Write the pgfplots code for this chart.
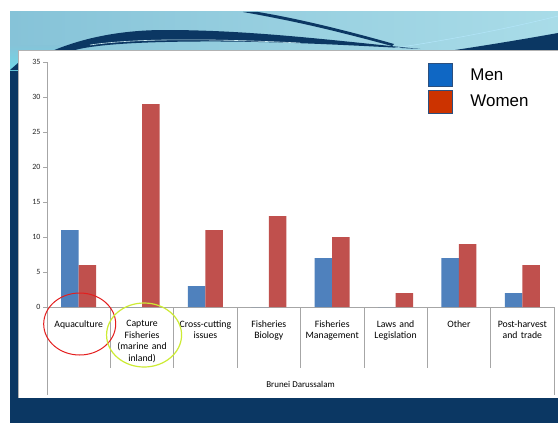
\documentclass[border=0pt]{standalone}
\usepackage{pgfplots}
\pgfplotsset{compat=1.18}
\usepackage{fontspec}
\setmainfont{Carlito}
\newfontfamily\arialf{Liberation Sans}
\definecolor{navy}{HTML}{0B3763}
\definecolor{bandL}{HTML}{86C3D8}
\definecolor{bandR}{HTML}{A9DCE8}
\definecolor{glow}{HTML}{6FD8E8}
\definecolor{barblue}{HTML}{4F81BD}
\definecolor{barred}{HTML}{C0504D}
\definecolor{legblue}{HTML}{0F67C4}
\definecolor{legred}{HTML}{CC3300}
\definecolor{legedge}{HTML}{2B4F7E}
\definecolor{sepgray}{HTML}{A6A6A6}
\definecolor{circred}{HTML}{E41E1E}
\definecolor{circgreen}{HTML}{CDEB34}
\begin{document}
\begin{tikzpicture}[x=1bp,y=1bp]
\clip (0,0) rectangle (558,423);
% slide background (decoration)
\fill[white] (0,0) rectangle (558,423);
\fill[navy] (10,0) rectangle (558,373);
\shade[left color=bandL, right color=bandR] (10,373) rectangle (558,411);
\shade[top color=bandL, bottom color=glow] (10,353) rectangle (60,378);
\fill[navy] (10,353) -- (18,360) -- (18,353) -- cycle;
\fill[navy] (52,372) .. controls (90,388) and (130,393) .. (165,393) .. controls (250,393) and (330,383) .. (420,374) .. controls (330,379) and (250,383) .. (165,381) .. controls (120,380) and (90,377) .. (75,373) -- cycle;
\draw[bandR!60!white, line width=0.6] (90,378) .. controls (130,384) and (200,385) .. (300,380);
\fill[navy] (243,411) .. controls (300,401) and (340,391) .. (392,377) -- (394,379) .. controls (345,393) and (295,405) .. (258,411) -- cycle;
\fill[navy] (455,373) .. controls (495,379) and (530,385) .. (558,390) -- (558,373) -- cycle;
\draw[white!70!cyan, line width=0.5] (395,375) .. controls (460,385) and (510,395) .. (558,407);
% white chart area
\fill[white] (18,25) rectangle (558,373);
\draw[gray!60, line width=0.6] (18,25) -- (18,373) -- (558,373);
\begin{axis}[
  at={(78.69bp,116bp)}, anchor=origin,
  scale only axis, width=507bp, height=245bp,
  xmin=-0.5, xmax=7.5, ymin=0, ymax=35,
  ybar=0pt, bar width=17.5bp,
  axis x line*=bottom, axis y line*=left,
  axis line style={sepgray, line width=0.6bp},
  xtick={0,...,7},
  xticklabels={Aquaculture,{Capture\\Fisheries\\(marine and\\inland)},{Cross-cutting\\issues},{Fisheries\\Biology},{Fisheries\\Management},{Laws and\\Legislation},Other,{Post-harvest\\and trade}},
  x tick label style={font=\fontsize{9.8}{11.6}\selectfont, text width=64bp, align=center, anchor=north, yshift=-6bp},
  major x tick style={draw=none},
  ytick={0,5,...,35},
  y tick label style={font=\fontsize{8}{9}\selectfont, color=black!85, xshift=1bp},
  major y tick style={sepgray, line width=0.6bp},
  tick align=outside, major tick length=4bp,
  /pgf/number format/assume math mode=true,
  clip=false,
  legend style={at={(rel axis cs:0.751,0.996)}, anchor=north west, draw=none, fill=none,
    font=\arialf\fontsize{17}{17}\selectfont, row sep=3bp, inner sep=0pt,
    /tikz/every odd column/.append style={column sep=18bp},
    nodes={inner sep=0pt, anchor=west}},
]
\addlegendimage{legend image code/.code={\draw[fill=legblue, draw=legedge, line width=0.5bp] (0bp,-11.5bp) rectangle (24bp,11.5bp);}}
\addlegendimage{legend image code/.code={\draw[fill=legred, draw=legedge, line width=0.5bp] (0bp,-11.5bp) rectangle (24bp,11.5bp);}}
\legend{Men,Women}
\addplot[fill=barblue, draw=none, bar shift=-8.75bp] coordinates {(0,11) (1,0) (2,3) (3,0) (4,7) (5,0) (6,7) (7,2)};
\addplot[fill=barred, draw=none, bar shift=8.75bp] coordinates {(0,6) (1,29) (2,11) (3,13) (4,10) (5,2) (6,9) (7,6)};
% category separators
\draw[sepgray, line width=0.6bp] (axis cs:0.5,0) -- ++(0pt,-61bp);
\draw[sepgray, line width=0.6bp] (axis cs:1.5,0) -- ++(0pt,-61bp);
\draw[sepgray, line width=0.6bp] (axis cs:2.5,0) -- ++(0pt,-61bp);
\draw[sepgray, line width=0.6bp] (axis cs:3.5,0) -- ++(0pt,-61bp);
\draw[sepgray, line width=0.6bp] (axis cs:4.5,0) -- ++(0pt,-61bp);
\draw[sepgray, line width=0.6bp] (axis cs:5.5,0) -- ++(0pt,-61bp);
\draw[sepgray, line width=0.6bp] (axis cs:6.5,0) -- ++(0pt,-61bp);
\draw[sepgray, line width=0.6bp] (axis cs:-0.5,0) -- ++(0pt,-88bp);
\draw[sepgray, line width=0.6bp] (axis cs:7.5,0) -- ++(0pt,-88bp);
\node[font=\fontsize{9}{10}\selectfont, anchor=base, yshift=-80bp] at (axis cs:3.5,0) {Brunei Darussalam};
% highlight circles
\draw[circred, line width=1bp] (axis cs:0,0) ++(1bp,-17bp) ellipse (36bp and 31bp);
\draw[circgreen, line width=1.2bp] (axis cs:1,0) ++(2bp,-28bp) ellipse (37.5bp and 32bp);
\end{axis}
\end{tikzpicture}
\end{document}
